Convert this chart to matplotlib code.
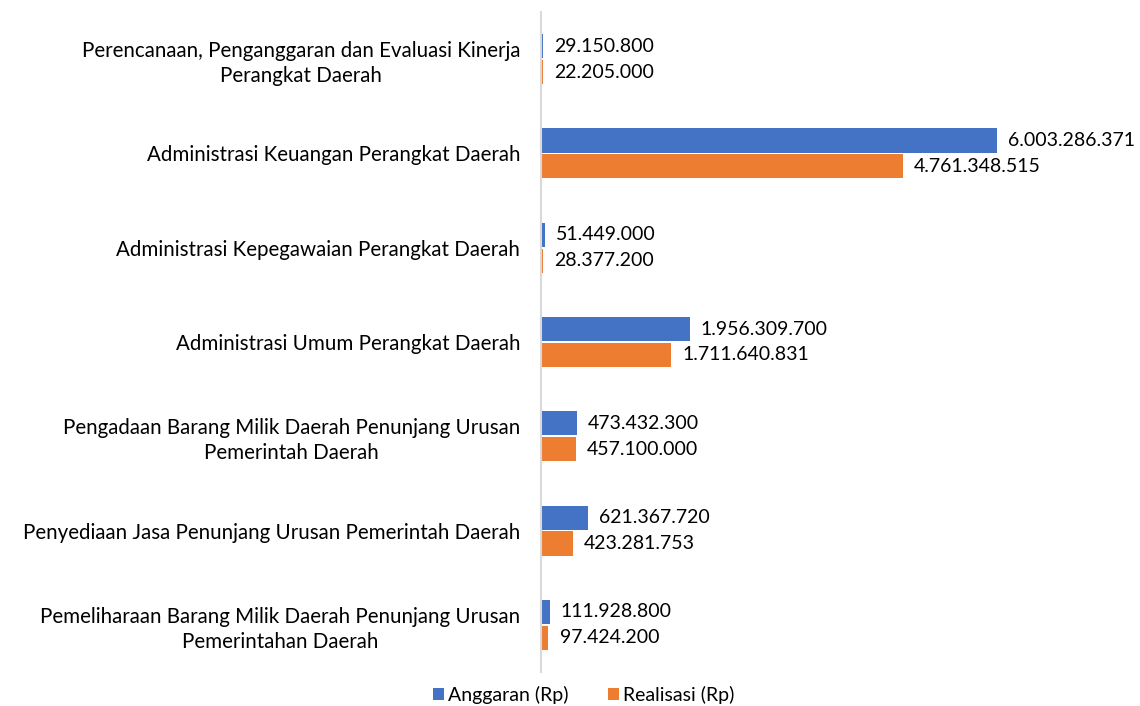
import numpy as np
import matplotlib.pyplot as plt

plt.rcParams['font.family'] = ['Lato', 'DejaVu Sans']

# data
kategori = [
    "Perencanaan, Penganggaran dan Evaluasi Kinerja\nPerangkat Daerah",
    "Administrasi Keuangan Perangkat Daerah",
    "Administrasi Kepegawaian Perangkat Daerah",
    "Administrasi Umum Perangkat Daerah",
    "Pengadaan Barang Milik Daerah Penunjang Urusan\nPemerintah Daerah",
    "Penyediaan Jasa Penunjang Urusan Pemerintah Daerah",
    "Pemeliharaan Barang Milik Daerah Penunjang Urusan\nPemerintahan Daerah",
]
anggaran = [29150800, 6003286371, 51449000, 1956309700, 473432300, 621367720, 111928800]
realisasi = [22205000, 4761348515, 28377200, 1711640831, 457100000, 423281753, 97424200]

def fmt(v):
    return f"{v:,}".replace(",", ".")

fs = 14

fig = plt.figure(figsize=(11.4, 7.06), dpi=100)
ax = fig.add_axes([541/1140, 1-672/706, (1100-541)/1140, 660/706])

y = np.arange(len(kategori))
h = 0.255
b1 = ax.barh(y - 0.137, anggaran, height=h, color='#4472C4', label='Anggaran (Rp)')
b2 = ax.barh(y + 0.137, realisasi, height=h, color='#ED7D31', label='Realisasi (Rp)')

for bars, vals in ((b1, anggaran), (b2, realisasi)):
    for b, v in zip(bars, vals):
        ax.annotate(fmt(v), (b.get_width(), b.get_y() + b.get_height()/2),
                    xytext=(8, 0), textcoords='offset points',
                    va='center', ha='left', fontsize=fs, color='#000000')

ax.set_xlim(0, 7.36e9)
ax.set_ylim(6.5, -0.5)
ax.set_yticks(y)
ax.set_yticklabels(kategori, fontsize=14.8, multialignment='center', linespacing=1.3)
ax.tick_params(axis='y', length=0, pad=15)
ax.set_xticks([])
for s in ['top', 'right', 'bottom']:
    ax.spines[s].set_visible(False)
ax.spines['left'].set_color('#D9D9D9')
ax.spines['left'].set_linewidth(1.5)

fig.legend(handles=[b1, b2], loc='lower center', bbox_to_anchor=(0.512, -0.022),
           ncol=2, frameon=False, fontsize=fs, handlelength=0.6, handleheight=0.6,
           handletextpad=0.2, columnspacing=2.0)

fig.savefig("out.png", dpi=100)
